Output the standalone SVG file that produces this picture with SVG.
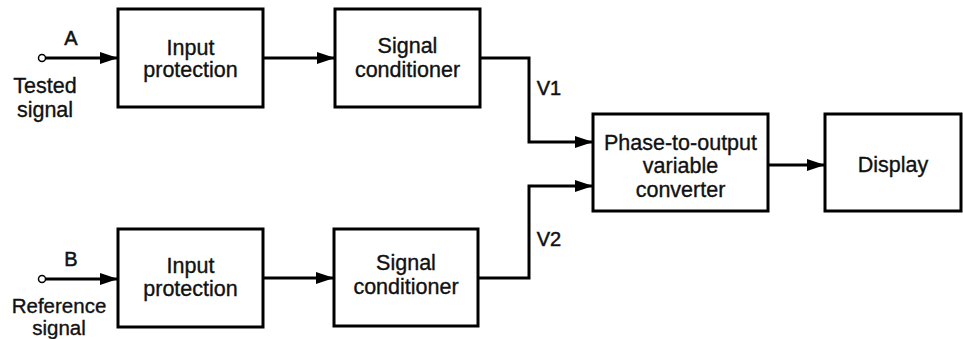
<svg xmlns="http://www.w3.org/2000/svg" width="963" height="339" viewBox="0 0 963 339">
<style>
.box{fill:#fff;stroke:#000;stroke-width:3}
.t{font-family:"Liberation Sans",Arial,sans-serif;font-size:21.5px;fill:#111;stroke:#111;stroke-width:0.35;text-anchor:middle}
.s{font-size:20.5px}
.lbl{font-family:"Liberation Sans",Arial,sans-serif;font-size:20px;fill:#111;stroke:#111;stroke-width:0.5;text-anchor:middle}
.c{fill:none;stroke:#000;stroke-width:3;marker-end:url(#ah)}
.term{fill:#fff;stroke:#000;stroke-width:1.5}
</style>
<defs>
<marker id="ah" markerUnits="userSpaceOnUse" markerWidth="20" markerHeight="14" refX="18" refY="6" orient="auto">
<path d="M0,0 L18,6 L0,12 Z" fill="#000"/>
</marker>
</defs>
<rect width="963" height="339" fill="#fff"/>
<g id="connectors">
<path class="c" d="M45.5,58 H118"/>
<path class="c" d="M263,58 H335"/>
<path class="c" d="M480,58 H529 V142 H593"/>
<path class="c" d="M45.5,279 H118"/>
<path class="c" d="M263,278 H334"/>
<path class="c" d="M478,278 H529 V186 H593"/>
<path class="c" d="M768,165 H825"/>
<circle class="term" cx="42" cy="58" r="3.5"/>
<circle class="term" cx="42" cy="279" r="3.5"/>
<text class="lbl" x="71" y="45">A</text>
<text class="lbl" x="71" y="266">B</text>
<text class="lbl" x="549" y="95">V1</text>
<text class="lbl" x="549" y="246">V2</text>
</g>
<g id="tested">
<text class="t" x="45" y="93">Tested</text>
<text class="t" x="45" y="117">signal</text>
</g>
<g id="reference">
<text class="t s" x="59" y="313">Reference</text>
<text class="t s" x="59" y="335">signal</text>
</g>
<g id="ip1">
<rect class="box" x="118" y="9" width="145" height="98"/>
<text class="t" x="190.5" y="55">Input</text>
<text class="t" x="190.5" y="77">protection</text>
</g>
<g id="sc1">
<rect class="box" x="335" y="9" width="145" height="98"/>
<text class="t" x="407.5" y="53">Signal</text>
<text class="t" x="407.5" y="77">conditioner</text>
</g>
<g id="ip2">
<rect class="box" x="118" y="229" width="145" height="98"/>
<text class="t" x="190.5" y="273">Input</text>
<text class="t" x="190.5" y="296">protection</text>
</g>
<g id="sc2">
<rect class="box" x="334" y="229" width="144" height="97"/>
<text class="t" x="406" y="270">Signal</text>
<text class="t" x="406" y="294">conditioner</text>
</g>
<g id="phase">
<rect class="box" x="593" y="114" width="175" height="97"/>
<text class="t" x="680.5" y="150">Phase-to-output</text>
<text class="t" x="680.5" y="173">variable</text>
<text class="t" x="680.5" y="197">converter</text>
</g>
<g id="display">
<rect class="box" x="825" y="114" width="136" height="97"/>
<text class="t" x="893" y="172">Display</text>
</g>
</svg>
